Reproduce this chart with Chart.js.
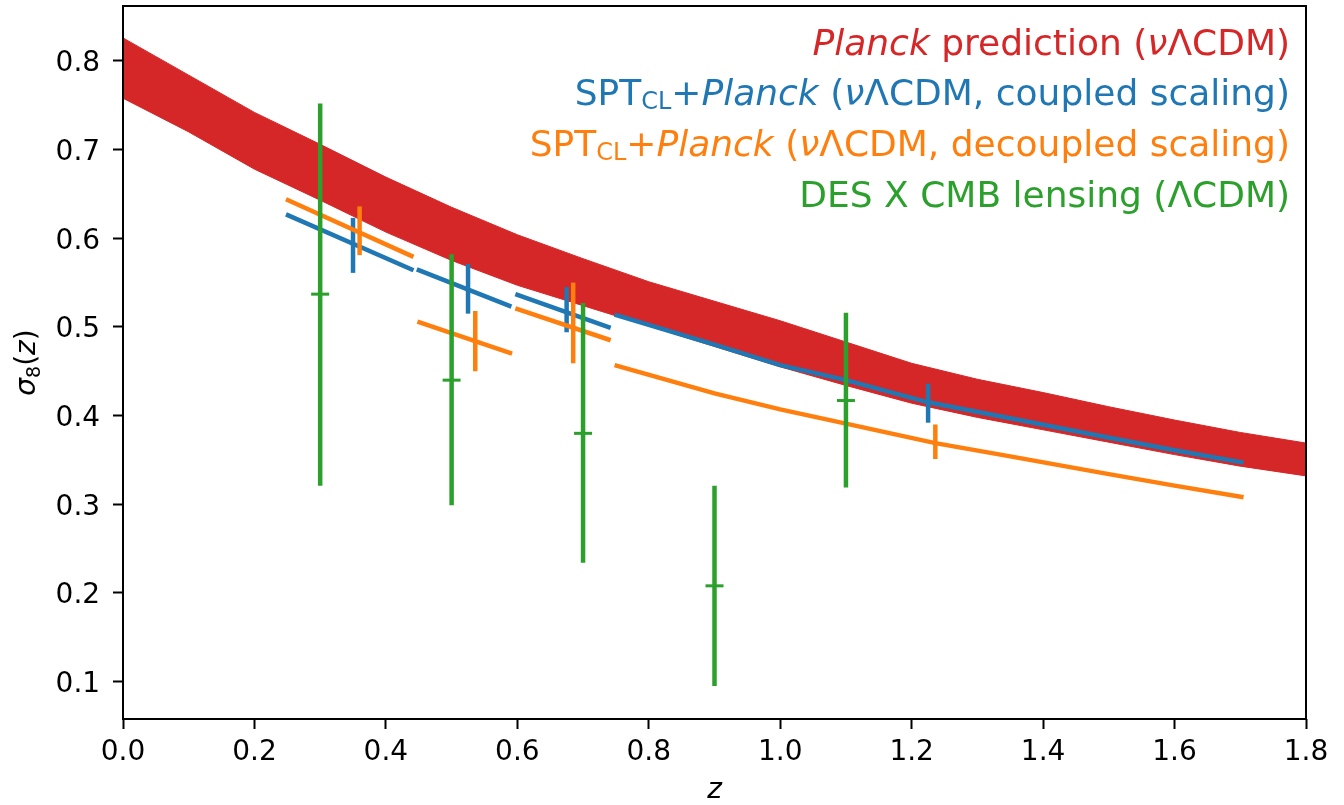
<!DOCTYPE html>
<html>
<head>
<meta charset="utf-8">
<script src="https://cdn.jsdelivr.net/npm/chart.js@4.4.0/dist/chart.umd.min.js"></script>
<style>
  html, body { margin: 0; padding: 0; background: #fff; }
</style>
</head>
<body>
<canvas id="sigma8Chart" width="1344" height="805"></canvas>
<script>
const RED = '#d62728', BLUE = '#1f77b4', ORANGE = '#ff7f0e', GREEN = '#2ca02c';

// Planck prediction band
const bandZ    = [0, 0.1, 0.2, 0.3, 0.4, 0.5, 0.6, 0.7, 0.8, 0.9, 1.0, 1.1, 1.2, 1.3, 1.4, 1.5, 1.6, 1.7, 1.8];
const bandHigh = [0.826, 0.784, 0.742, 0.706, 0.669, 0.635, 0.604, 0.577, 0.551, 0.529, 0.507, 0.483, 0.459, 0.441, 0.426, 0.410, 0.395, 0.381, 0.369];
const bandLow  = [0.758, 0.720, 0.678, 0.643, 0.607, 0.575, 0.547, 0.524, 0.501, 0.478, 0.455, 0.434, 0.414, 0.398, 0.384, 0.370, 0.356, 0.343, 0.332];

// SPT_CL + Planck, coupled scaling (one segment per redshift bin)
const coupledSegZ = [
  [0.248, 0.442],
  [0.447, 0.591],
  [0.597, 0.742],
  [0.748, 0.9, 1.0, 1.1, 1.225, 1.35, 1.487, 1.6, 1.705]
];
const coupledSegS8 = [
  [0.627, 0.564],
  [0.565, 0.523],
  [0.537, 0.499],
  [0.514, 0.480, 0.457, 0.440, 0.415, 0.397, 0.377, 0.361, 0.347]
];
const coupledErrZ    = [0.350, 0.525, 0.675, 1.225];
const coupledErrLow  = [0.561, 0.515, 0.494, 0.392];
const coupledErrHigh = [0.623, 0.571, 0.545, 0.436];

// SPT_CL + Planck, decoupled scaling
const decoupledSegZ = [
  [0.248, 0.442],
  [0.448, 0.592],
  [0.597, 0.742],
  [0.748, 0.9, 1.0, 1.1, 1.236, 1.35, 1.5, 1.6, 1.705]
];
const decoupledSegS8 = [
  [0.644, 0.579],
  [0.506, 0.470],
  [0.521, 0.485],
  [0.457, 0.425, 0.407, 0.391, 0.369, 0.354, 0.334, 0.321, 0.308]
];
const decoupledErrZ    = [0.360, 0.536, 0.685, 1.236];
const decoupledErrLow  = [0.581, 0.450, 0.459, 0.351];
const decoupledErrHigh = [0.636, 0.518, 0.550, 0.390];

// DES x CMB lensing
const desZ    = [0.3, 0.5, 0.7, 0.9, 1.1];
const desS8   = [0.537, 0.440, 0.380, 0.208, 0.417];
const desLow  = [0.321, 0.299, 0.234, 0.095, 0.319];
const desHigh = [0.752, 0.582, 0.527, 0.321, 0.516];

const xTickValues = [0, 0.2, 0.4, 0.6, 0.8, 1.0, 1.2, 1.4, 1.6, 1.8];
const yTickValues = [0.1, 0.2, 0.3, 0.4, 0.5, 0.6, 0.7, 0.8];
const xRange = [0, 1.8];
const yRange = [0.0578, 0.862];

// legend rows: [text, style]
const legendRows = [
  { color: RED,    parts: [['Planck', 'i'], [' prediction (', 'n'], ['ν', 'i'], ['ΛCDM)', 'n']] },
  { color: BLUE,   parts: [['SPT', 'n'], ['CL', 'sub'], ['+', 'n'], ['Planck', 'i'], [' (', 'n'], ['ν', 'i'], ['ΛCDM, coupled scaling)', 'n']] },
  { color: ORANGE, parts: [['SPT', 'n'], ['CL', 'sub'], ['+', 'n'], ['Planck', 'i'], [' (', 'n'], ['ν', 'i'], ['ΛCDM, decoupled scaling)', 'n']] },
  { color: GREEN,  parts: [['DES X CMB lensing (ΛCDM)', 'n']] }
];

const FONT = 'DejaVu Sans';
Chart.defaults.font.family = FONT;
Chart.defaults.color = '#000';

const pts = (zs, ys) => zs.map((z, i) => ({ x: z, y: ys[i] }));

const datasets = [];
datasets.push({
  label: 'band low', data: pts(bandZ, bandLow),
  borderColor: RED, borderWidth: 1, pointRadius: 0, fill: false, order: 50
});
datasets.push({
  label: 'Planck prediction', data: pts(bandZ, bandHigh),
  borderColor: RED, borderWidth: 1, pointRadius: 0, fill: '-1', backgroundColor: RED, order: 49
});

function addSegments(segZ, segS8, color, order) {
  segZ.forEach((zs, k) => {
    datasets.push({
      label: 'seg', data: pts(zs, segS8[k]),
      borderColor: color, borderWidth: 4.5, pointRadius: 0, fill: false, order: order
    });
  });
}
function addErrBars(zs, lo, hi, color, width, order) {
  zs.forEach((z, k) => {
    datasets.push({
      label: 'err', data: [{ x: z, y: lo[k] }, { x: z, y: hi[k] }],
      borderColor: color, borderWidth: width, borderCapStyle: 'butt', pointRadius: 0, fill: false, order: order
    });
  });
}

addSegments(coupledSegZ, coupledSegS8, BLUE, 40);
addErrBars(coupledErrZ, coupledErrLow, coupledErrHigh, BLUE, 4.5, 39);
addSegments(decoupledSegZ, decoupledSegS8, ORANGE, 30);
addErrBars(decoupledErrZ, decoupledErrLow, decoupledErrHigh, ORANGE, 4.5, 29);
addErrBars(desZ, desLow, desHigh, GREEN, 4.5, 20);
datasets.push({
  label: 'DES X CMB lensing', data: pts(desZ, desS8), showLine: false,
  pointStyle: 'line', pointRadius: 9, pointBorderWidth: 3, pointBorderColor: GREEN,
  pointBackgroundColor: GREEN, order: 19
});

const framePlugin = {
  id: 'frame',
  afterDraw(chart) {
    const { ctx, chartArea: a } = chart;
    ctx.save();
    ctx.strokeStyle = '#000';
    ctx.lineWidth = 2;
    ctx.strokeRect(a.left, a.top, a.right - a.left, a.bottom - a.top);
    ctx.restore();
  }
};

function fontFor(style, size) {
  if (style === 'i') return 'italic ' + size + 'px "' + FONT + '"';
  if (style === 'sub') return Math.round(size * 0.68) + 'px "' + FONT + '"';
  return size + 'px "' + FONT + '"';
}

function runsWidth(ctx, parts, size) {
  let w = 0;
  parts.forEach(([t, s]) => { ctx.font = fontFor(s, size); w += ctx.measureText(t).width; });
  return w;
}

const textPlugin = {
  id: 'texts',
  afterDraw(chart) {
    const { ctx } = chart;
    ctx.save();
    // legend, right aligned
    const size = 36, right = 1290;
    legendRows.forEach((row, i) => {
      const base = 54.5 + i * 50.7;
      let x = right - runsWidth(ctx, row.parts, size);
      ctx.fillStyle = row.color;
      ctx.textBaseline = 'alphabetic';
      ctx.textAlign = 'left';
      row.parts.forEach(([t, s]) => {
        ctx.font = fontFor(s, size);
        ctx.fillText(t, x, s === 'sub' ? base + 4 : base);
        x += ctx.measureText(t).width;
      });
    });
    // y axis title: sigma_8(z)
    const yParts = [['σ', 'i'], ['8', 'sub'], ['(', 'n'], ['z', 'i'], [')', 'n']];
    const a = chart.chartArea;
    ctx.translate(35, (a.top + a.bottom) / 2);
    ctx.rotate(-Math.PI / 2);
    ctx.fillStyle = '#000';
    let x = -runsWidth(ctx, yParts, 28) / 2;
    yParts.forEach(([t, s]) => {
      ctx.font = fontFor(s, 28);
      ctx.fillText(t, x, s === 'sub' ? 5 : 0);
      x += ctx.measureText(t).width;
    });
    ctx.restore();
  }
};

new Chart(document.getElementById('sigma8Chart'), {
  type: 'line',
  data: { datasets },
  options: {
    responsive: false,
    devicePixelRatio: 1,
    animation: false,
    events: [],
    layout: { autoPadding: false, padding: { top: 6, right: 38, left: 0, bottom: 0 } },
    elements: { line: { tension: 0, borderCapStyle: 'butt' } },
    plugins: { legend: { display: false }, tooltip: { enabled: false } },
    scales: {
      x: {
        type: 'linear', min: xRange[0], max: xRange[1], bounds: 'data',
        afterBuildTicks: s => { s.ticks = xTickValues.map(v => ({ value: v })); },
        afterFit: s => { s.height = 86; s.paddingLeft = 0; s.paddingRight = 0; },
        ticks: { font: { size: 28 }, padding: 7, maxRotation: 0, autoSkip: false, callback: v => v.toFixed(1) },
        grid: { drawOnChartArea: false, tickLength: 10, tickWidth: 2, tickColor: '#000' },
        border: { display: false },
        title: { display: true, text: 'z', font: { size: 28, style: 'italic', lineHeight: 1 }, padding: { top: 0, bottom: 0 } }
      },
      y: {
        type: 'linear', min: yRange[0], max: yRange[1], bounds: 'data',
        afterBuildTicks: s => { s.ticks = yTickValues.map(v => ({ value: v })); },
        afterFit: s => { s.width = 123; s.paddingTop = 0; s.paddingBottom = 0; },
        // trailing space keeps the label clear of the tick mark
        ticks: { font: { size: 28, lineHeight: 0.4 }, padding: 4, labelOffset: 3, callback: v => v.toFixed(1) + ' ' },
        grid: { drawOnChartArea: false, tickLength: 10, tickWidth: 2, tickColor: '#000' },
        border: { display: false }
      }
    }
  },
  plugins: [framePlugin, textPlugin]
});
</script>
</body>
</html>
